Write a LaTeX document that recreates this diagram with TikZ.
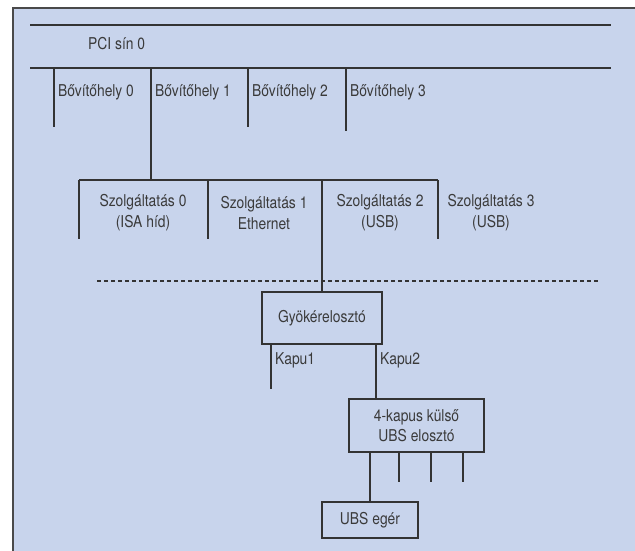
\documentclass[tikz,border=0pt]{standalone}
\usepackage{fontspec}
\setmainfont{TeX Gyre Heros}[FakeStretch=0.85]
\definecolor{bg}{HTML}{C8D4EC}
\definecolor{ln}{HTML}{333333}
\definecolor{tx}{HTML}{3A3A3A}
\definecolor{fr}{HTML}{4A4A4A}
\tikzset{
  lbl/.style={font=\fontsize{16.3}{21}\selectfont, text=tx, inner sep=0pt, align=center},
  boxnode/.style={draw=ln, line width=1.2pt, inner sep=0pt, font=\fontsize{16.3}{20.5}\selectfont, text=tx, align=center},
  conn/.style={draw=ln, line width=1.2pt},
  dashline/.style={draw=ln, line width=1.2pt, dash pattern=on 4pt off 3pt}
}
\begin{document}
\begin{tikzpicture}[x=1pt,y=-1pt]
\useasboundingbox (0,0) rectangle (635,551);
\begin{scope}
\clip (0,0) rectangle (635,551);
\fill[bg] (13,8) rectangle (645,560);
\draw[fr, line width=1.6pt] (13,560) -- (13,8) -- (645,8);
\end{scope}

% PCI bus
\coordinate (tL) at (30,25);
\coordinate (tR) at (611,25);
\coordinate (bL) at (30,68);
\coordinate (bR) at (611,68);
\draw[conn] (tL) -- (tR);
\draw[conn] (bL) -- (bR);
\node[lbl, anchor=west] (pci) at (88,44) {PCI sín 0};

% slots
\coordinate (sl0) at (54,127);
\coordinate (sl1) at (151,180);
\coordinate (sl2) at (248,127);
\coordinate (sl3) at (346,131);
\draw[conn] (sl0 |- bL) -- (sl0);
\draw[conn] (sl1 |- bL) -- (sl1);
\draw[conn] (sl2 |- bL) -- (sl2);
\draw[conn] (sl3 |- bL) -- (sl3);
\node[lbl, anchor=base west] (b0) at (58,96) {Bővítőhely 0};
\node[lbl, anchor=base west] (b1) at (155,96) {Bővítőhely 1};
\node[lbl, anchor=base west] (b2) at (252,96) {Bővítőhely 2};
\node[lbl, anchor=base west] (b3) at (350,96) {Bővítőhely 3};

% services
\coordinate (svL) at (79,180);
\coordinate (svR) at (438,180);
\draw[conn] (svL) -- (svR);
\coordinate (v0) at (79,239);
\coordinate (v1) at (208,239);
\coordinate (v2) at (322,180);
\coordinate (v3) at (438,239);
\draw[conn] (svL) -- (v0);
\draw[conn] (v1 |- svL) -- (v1);
\draw[conn] (svR) -- (v3);
\node[lbl] (sv0) at (143,213) {Szolgáltatás 0\\(ISA híd)};
\node[lbl] (sv1) at (264,213) {Szolgáltatás 1\\Ethernet};
\node[lbl] (sv2) at (380,213) {Szolgáltatás 2\\(USB)};
\node[lbl] (sv3) at (491,213) {Szolgáltatás 3\\(USB)};

% dashed separator
\coordinate (dL) at (97,281);
\coordinate (dR) at (598,281);
\draw[dashline] (dL) -- (dR);

% root hub
\node[boxnode, minimum width=120pt, minimum height=52pt] (root) at (322,318) {Gyökérelosztó};
\draw[conn] (v2) -- (root.north);

% ports of root hub
\coordinate (k1) at (271,389);
\coordinate (k2) at (376,370);
\draw[conn] (root.south -| k1) -- (k1);
\node[lbl, anchor=west] (k1l) at (275,360) {Kapu1};
\node[lbl, anchor=west] (k2l) at (380,360) {Kapu2};

% external hub
\node[boxnode, minimum width=135pt, minimum height=53pt] (hub) at (416.5,425.5) {4-kapus külső\\UBS elosztó};
\draw[conn] (root.south -| k2) -- (hub.north -| k2);

% mouse
\node[boxnode, minimum width=96pt, minimum height=36pt] (mouse) at (370,520) {UBS egér};
\draw[conn] (hub.south -| mouse.north) -- (mouse.north);

% free hub ports
\coordinate (p1) at (399,482);
\coordinate (p2) at (431,482);
\coordinate (p3) at (463,482);
\draw[conn] (hub.south -| p1) -- (p1);
\draw[conn] (hub.south -| p2) -- (p2);
\draw[conn] (hub.south -| p3) -- (p3);
\end{tikzpicture}
\end{document}
